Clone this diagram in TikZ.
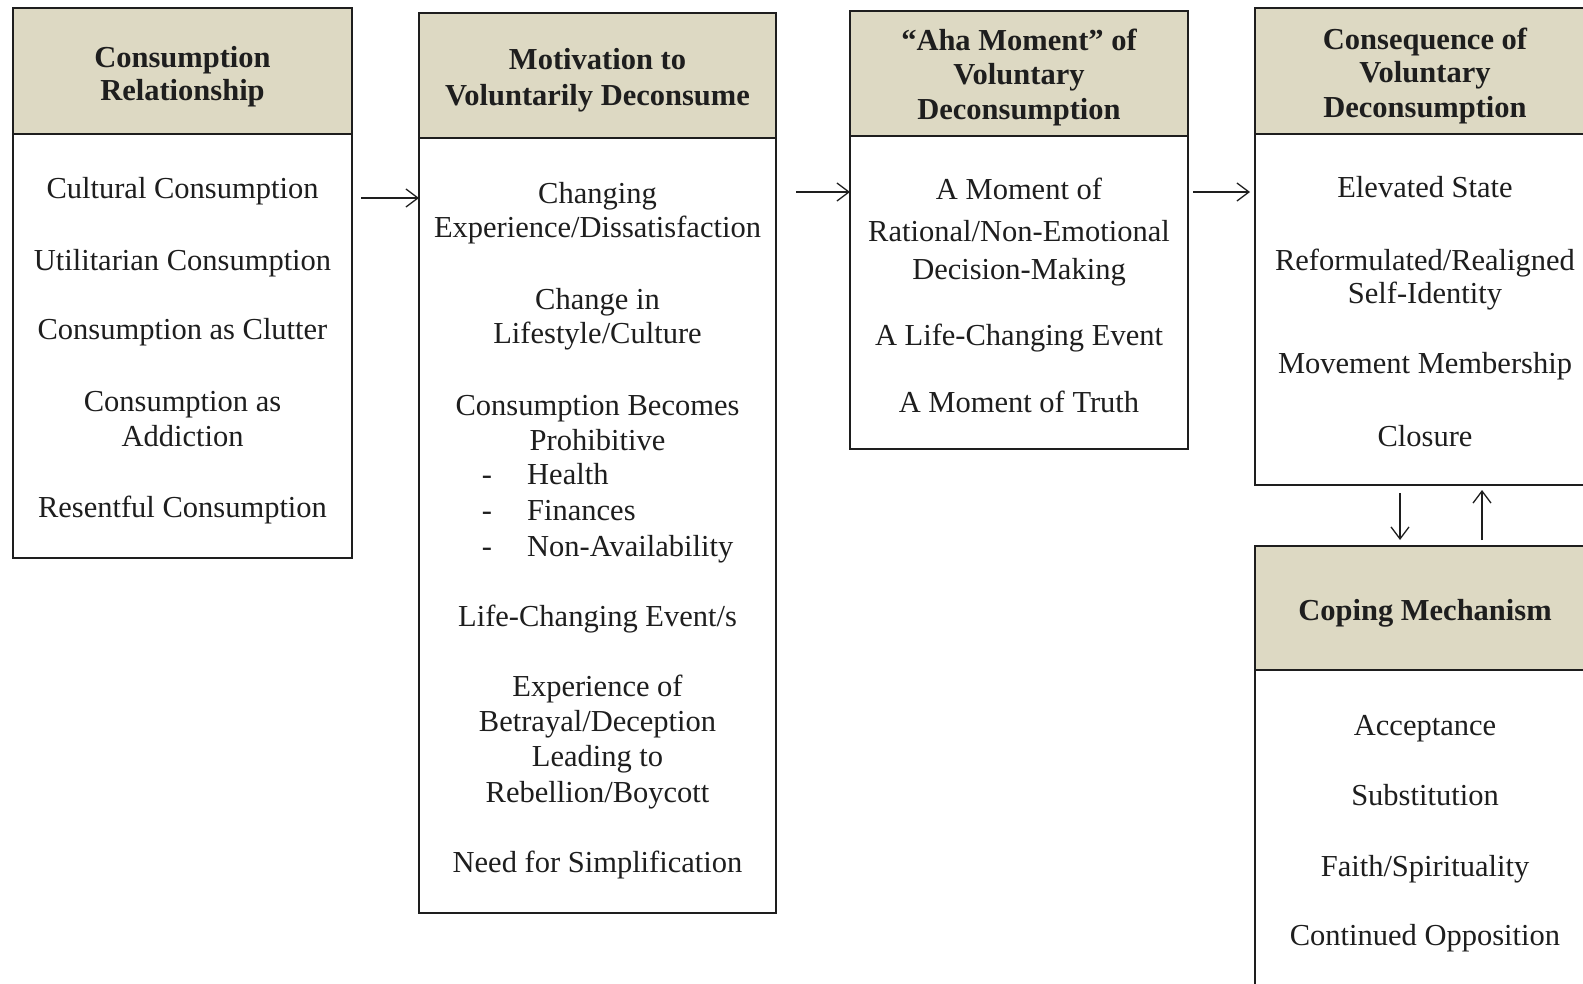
\documentclass[tikz,border=0pt]{standalone}
\usepackage{fontspec}
\setmainfont{Liberation Serif}
\usetikzlibrary{arrows.meta}
\definecolor{headfill}{HTML}{DDD9C3}
\definecolor{ink}{HTML}{1E1E1E}
\tikzset{
  headbox/.style={draw=ink, line width=1.6pt, fill=headfill, rectangle, inner sep=0pt, outer sep=0pt},
  bodybox/.style={draw=ink, line width=1.6pt, fill=white, rectangle, inner sep=0pt, outer sep=0pt},
  txt/.style={anchor=base, inner sep=0pt, text=ink, font=\fontsize{30.5}{35}\selectfont},
  htxt/.style={txt, font=\fontsize{30.5}{35}\selectfont\bfseries},
  ltxt/.style={txt, anchor=base west},
  arr/.style={draw=ink, line width=1.3pt, -{Straight Barb[length=12pt,width=18pt,line width=1.3pt]}}
}
% header box + body box of one panel: name, x-left, x-right, top, header bottom, bottom
\newcommand\panel[6]{%
  \node[headbox, minimum width={(#3-#2)*1pt}, minimum height={(#5-#4)*1pt}]
    (#1h) at ({(#2+#3)/2},{(#4+#5)/2}) {};
  \node[bodybox, minimum width={(#3-#2)*1pt}, minimum height={(#6-#5)*1pt}]
    (#1) at ({(#2+#3)/2},{(#5+#6)/2}) {};
}
\begin{document}
\begin{tikzpicture}[x={(1pt,0pt)}, y={(0pt,-1pt)}]
\useasboundingbox (0,0) rectangle (1583,984);
\clip (0,0) rectangle (1583,984);

\panel{b1}{13}{352}{8}{134}{558}
\panel{b2}{419}{776}{13}{138}{913}
\panel{b3}{850}{1188}{11}{136}{449}
\panel{b4}{1255}{1596}{8}{134}{485}
\panel{b5}{1255}{1596}{546}{670}{1010}

% Consumption Relationship
\node[htxt] (t1a) at (182.5,68) {Consumption};
\node[htxt] (t1b) at (182.5,101) {Relationship};
\node[txt] (i1a) at (182.5,199) {Cultural Consumption};
\node[txt] (i1b) at (182.5,270.5) {Utilitarian Consumption};
\node[txt] (i1c) at (182.5,340) {Consumption as Clutter};
\node[txt] (i1d) at (182.5,411) {Consumption as};
\node[txt] (i1e) at (182.5,446) {Addiction};
\node[txt] (i1f) at (182.5,517) {Resentful Consumption};

% Motivation to Voluntarily Deconsume
\node[htxt] (t2a) at (597.5,70) {Motivation to};
\node[htxt] (t2b) at (597.5,106) {Voluntarily Deconsume};
\node[txt] (i2a) at (597.5,204) {Changing};
\node[txt] (i2b) at (597.5,238) {Experience/Dissatisfaction};
\node[txt] (i2c) at (597.5,310) {Change in};
\node[txt] (i2d) at (597.5,344) {Lifestyle/Culture};
\node[txt] (i2e) at (597.5,415) {Consumption Becomes};
\node[txt] (i2f) at (597.5,450) {Prohibitive};
\node[txt] (d2a) at (487,484) {-};
\node[ltxt] (i2g) at (527,484) {Health};
\node[txt] (d2b) at (487,520.5) {-};
\node[ltxt] (i2h) at (527,520.5) {Finances};
\node[txt] (d2c) at (487,556.5) {-};
\node[ltxt] (i2i) at (527,556.5) {Non-Availability};
\node[txt] (i2j) at (597.5,626) {Life-Changing Event/s};
\node[txt] (i2k) at (597.5,696.5) {Experience of};
\node[txt] (i2l) at (597.5,731) {Betrayal/Deception};
\node[txt] (i2m) at (597.5,766) {Leading to};
\node[txt] (i2n) at (597.5,802.5) {Rebellion/Boycott};
\node[txt] (i2o) at (597.5,872.5) {Need for Simplification};

% Aha moment
\node[htxt] (t3a) at (1019,51) {“Aha Moment” of};
\node[htxt] (t3b) at (1019,85) {Voluntary};
\node[htxt] (t3c) at (1019,120) {Deconsumption};
\node[txt] (i3a) at (1019,200) {A Moment of};
\node[txt] (i3b) at (1019,242) {Rational/Non-Emotional};
\node[txt] (i3c) at (1019,279.5) {Decision-Making};
\node[txt] (i3d) at (1019,346) {A Life-Changing Event};
\node[txt] (i3e) at (1019,412) {A Moment of Truth};

% Consequence
\node[htxt] (t4a) at (1425,49.5) {Consequence of};
\node[htxt] (t4b) at (1425,82.5) {Voluntary};
\node[htxt] (t4c) at (1425,118) {Deconsumption};
\node[txt] (i4a) at (1425,198) {Elevated State};
\node[txt] (i4b) at (1425,270.5) {Reformulated/Realigned};
\node[txt] (i4c) at (1425,304) {Self-Identity};
\node[txt] (i4d) at (1425,373.5) {Movement Membership};
\node[txt] (i4e) at (1425,446) {Closure};

% Coping
\node[htxt] (t5a) at (1425,620) {Coping Mechanism};
\node[txt] (i5a) at (1425,735) {Acceptance};
\node[txt] (i5b) at (1425,805.5) {Substitution};
\node[txt] (i5c) at (1425,876) {Faith/Spirituality};
\node[txt] (i5d) at (1425,945.5) {Continued Opposition};

% connectors
\coordinate (r1) at (0,198);
\coordinate (r2) at (0,192);
\coordinate (cdown) at (1400,0);
\coordinate (cup) at (1482,0);
\draw[arr, shorten <=9pt] (b1.east |- r1) -- (b2.west |- r1);
\draw[arr, shorten <=20pt] (b2.east |- r2) -- (b3.west |- r2);
\draw[arr, shorten <=5pt, shorten >=5pt] (b3.east |- r2) -- (b4.west |- r2);
\draw[arr, shorten <=8pt, shorten >=6pt] (b4.south -| cdown) -- (b5h.north -| cdown);
\draw[arr, shorten <=6pt, shorten >=5pt] (b5h.north -| cup) -- (b4.south -| cup);
\end{tikzpicture}
\end{document}
